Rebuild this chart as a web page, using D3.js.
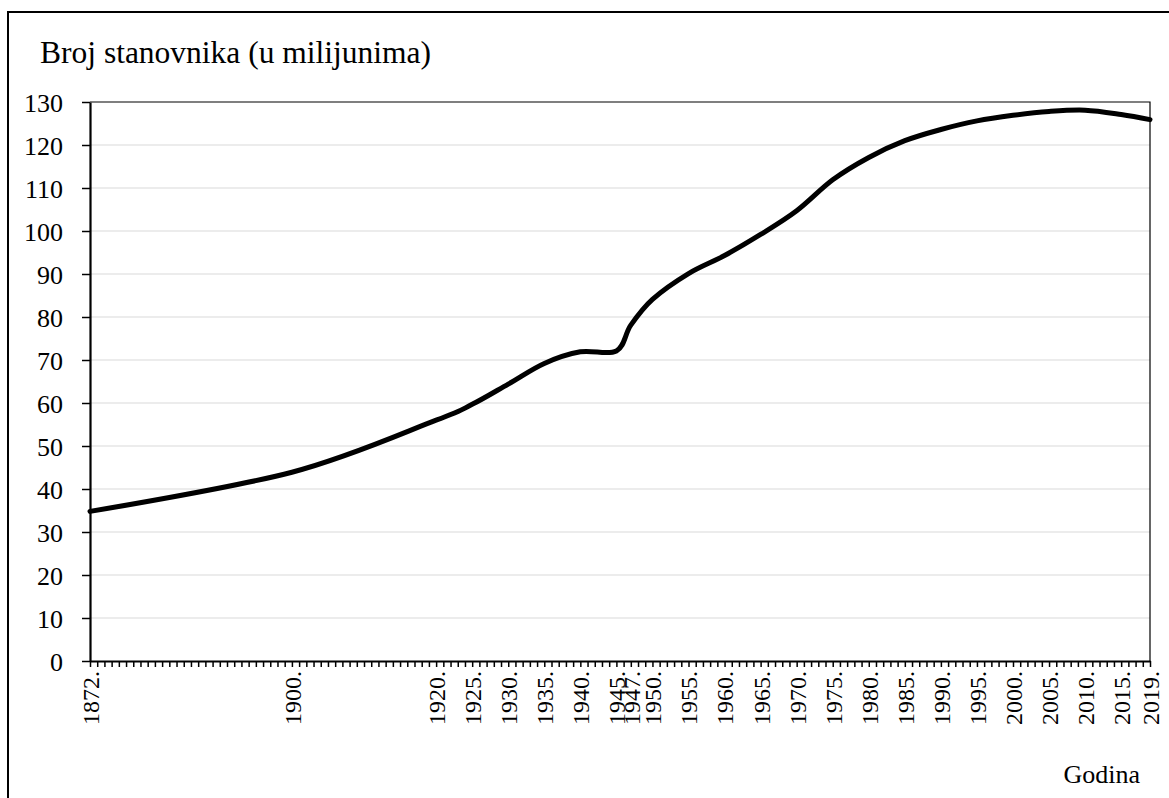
<!DOCTYPE html>
<meta charset="utf-8">
<script src="https://d3js.org/d3.v7.min.js"></script>
<style>
body { margin: 0; background: #fff; }
svg text { font-family: "Liberation Serif", "Times New Roman", serif !important; }
</style>
<div id="chart"></div>
<script>
// years with data (labels shown only for these)
var years = [1872, 1900, 1920, 1925, 1930, 1935, 1940, 1945, 1947, 1950, 1955, 1960, 1965,
  1970, 1975, 1980, 1985, 1990, 1995, 2000, 2005, 2010, 2015, 2019];
// population in millions
var population = [34.8, 43.9, 56.0, 59.7, 64.4, 69.2, 71.9, 72.1, 78.1, 84.1, 90.1, 94.3, 99.2,
  104.7, 111.9, 117.1, 121.0, 123.6, 125.6, 126.9, 127.8, 128.1, 127.1, 125.9];
var yTicks = [0, 10, 20, 30, 40, 50, 60, 70, 80, 90, 100, 110, 120, 130];

var W = 1169, H = 798;
var mLeft = 90, mRight = 1150, mTop = 102, mBottom = 661;
var serif = "Liberation Serif, Times New Roman, serif";

var allYears = d3.range(years[0], years[years.length - 1] + 1);
var data = years.map(function(d, i) { return {year: d, value: population[i]}; });

var svg = d3.select("#chart").append("svg")
  .attr("width", W)
  .attr("height", H)
  .attr("font-family", serif);

// outer frame
svg.append("rect")
  .attr("x", 8).attr("y", 12)
  .attr("width", W + 20).attr("height", H + 20)
  .attr("fill", "none")
  .attr("stroke", "#000")
  .attr("stroke-width", 2);

var x = d3.scalePoint()
  .domain(allYears)
  .range([mLeft, mRight]);

var y = d3.scaleLinear()
  .domain([0, 130])
  .range([mBottom, mTop]);

// gridlines
svg.append("g")
  .selectAll("line")
  .data(yTicks.filter(function(d) { return d > 0 && d < 130; }))
  .enter()
  .append("line")
    .attr("x1", mLeft).attr("x2", mRight)
    .attr("y1", function(d) { return y(d); })
    .attr("y2", function(d) { return y(d); })
    .attr("stroke", "#d9d9d9")
    .attr("stroke-width", 1.2);

// plot area border top / right
svg.append("path")
  .attr("d", "M" + mLeft + "," + mTop + "H" + mRight + "V" + mBottom)
  .attr("fill", "none")
  .attr("stroke", "#000")
  .attr("stroke-width", 1.2);

// y axis
var yAxis = svg.append("g")
  .attr("transform", "translate(" + mLeft + ",0)")
  .call(d3.axisLeft(y).tickValues(yTicks).tickSize(8).tickSizeOuter(0).tickPadding(19))
  .attr("font-family", serif)
  .attr("font-size", 26);
yAxis.select(".domain").attr("stroke-width", 2.2);
yAxis.selectAll(".tick line").attr("stroke-width", 1.5);
yAxis.selectAll("text")
  .attr("fill", "#000")
  .attr("dy", "0.35em");

// x axis
var xAxis = svg.append("g")
  .attr("transform", "translate(0," + mBottom + ")")
  .call(d3.axisBottom(x)
    .tickSize(6)
    .tickSizeOuter(0)
    .tickFormat(function(d) { return years.indexOf(d) >= 0 ? d + "." : ""; }))
  .attr("font-family", serif)
  .attr("font-size", 24);
xAxis.select(".domain").attr("stroke-width", 2.2);
xAxis.selectAll(".tick line").attr("stroke-width", 1.5);
xAxis.selectAll("text")
  .attr("fill", "#000")
  .attr("text-anchor", "end")
  .attr("transform", "rotate(-90)")
  .attr("x", -10)
  .attr("y", 0)
  .attr("dy", "0.35em");

// line
var line = d3.line()
  .x(function(d) { return x(d.year); })
  .y(function(d) { return y(d.value); })
  .curve(d3.curveCardinal.tension(0));

svg.append("path")
  .datum(data)
  .attr("d", line)
  .attr("fill", "none")
  .attr("stroke", "#000")
  .attr("stroke-width", 5)
  .attr("stroke-linecap", "round");

// titles
svg.append("text")
  .attr("x", 40)
  .attr("y", 63)
  .attr("font-size", 31.5)
  .text("Broj stanovnika (u milijunima)");

svg.append("text")
  .attr("x", 1140)
  .attr("y", 783)
  .attr("text-anchor", "end")
  .attr("font-size", 26)
  .text("Godina");
</script>
